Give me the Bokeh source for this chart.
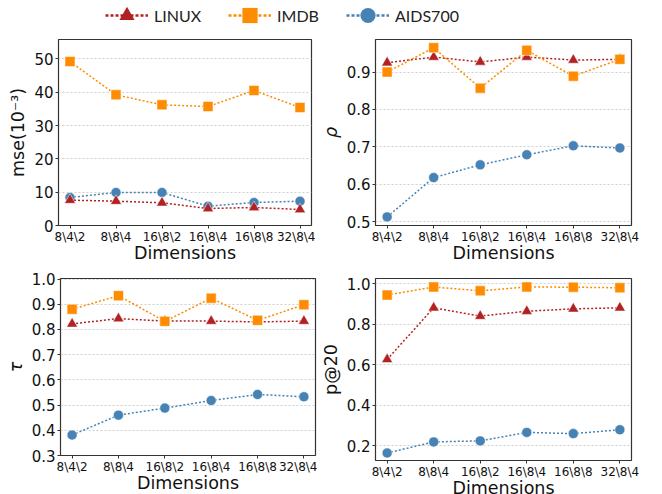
from bokeh.plotting import figure
from bokeh.layouts import column, row
from bokeh.models import (Range1d, FixedTicker, Legend, LegendItem)
from bokeh.embed import file_html
from bokeh.resources import INLINE

# ---------------- data ----------------
dims = ["8\\4\\2", "8\\8\\4", "16\\8\\2", "16\\8\\4", "16\\8\\8", "32\\8\\4"]
series = ["LINUX", "IMDB", "AIDS700"]

mse_linux = [7.6, 7.3, 6.8, 5.1, 5.4, 4.8]
mse_imdb = [49.2, 39.2, 36.2, 35.7, 40.5, 35.4]
mse_aids = [8.4, 9.9, 9.9, 5.8, 6.9, 7.3]

rho_linux = [0.925, 0.940, 0.927, 0.940, 0.932, 0.934]
rho_imdb = [0.900, 0.965, 0.857, 0.958, 0.889, 0.934]
rho_aids = [0.513, 0.618, 0.652, 0.679, 0.703, 0.697]

tau_linux = [0.822, 0.843, 0.833, 0.833, 0.830, 0.833]
tau_imdb = [0.880, 0.934, 0.832, 0.924, 0.836, 0.898]
tau_aids = [0.381, 0.460, 0.488, 0.518, 0.542, 0.533]

p20_linux = [0.627, 0.882, 0.841, 0.865, 0.877, 0.882]
p20_imdb = [0.945, 0.985, 0.966, 0.985, 0.984, 0.981]
p20_aids = [0.164, 0.219, 0.224, 0.266, 0.260, 0.279]

mse_ticks = [0, 10, 20, 30, 40, 50]
mse_tick_labels = ["0", "10", "20", "30", "40", "50"]
rho_ticks = [0.5, 0.6, 0.7, 0.8, 0.9]
rho_tick_labels = ["0.5", "0.6", "0.7", "0.8", "0.9"]
tau_ticks = [0.3, 0.4, 0.5, 0.6, 0.7, 0.8, 0.9, 1.0]
tau_tick_labels = ["0.3", "0.4", "0.5", "0.6", "0.7", "0.8", "0.9", "1.0"]
p20_ticks = [0.2, 0.4, 0.6, 0.8, 1.0]
p20_tick_labels = ["0.2", "0.4", "0.6", "0.8", "1.0"]

colors = {"LINUX": "#b22222", "IMDB": "#ff8c00", "AIDS700": "#4682b4"}
markers = {"LINUX": "triangle", "IMDB": "square", "AIDS700": "circle"}
msize = {"LINUX": 11, "IMDB": 10, "AIDS700": 10}

FONT = "DejaVu Sans"
xs = list(range(len(dims)))


def panel(data, ylabel, yr, yticks, ylabels, fw, fh, bl, br, bt, bb, italic=False):
    p = figure(width=bl + fw + br, height=bt + fh + bb,
               frame_width=fw, frame_height=fh,
               min_border_left=bl, min_border_right=br,
               min_border_top=bt, min_border_bottom=bb,
               x_range=Range1d(-0.25, len(dims) - 0.75),
               y_range=Range1d(*yr),
               toolbar_location=None, output_backend="svg")
    p.outline_line_color = "#333333"
    p.outline_line_width = 1.2
    p.xgrid.visible = False
    p.ygrid.grid_line_color = "#cfcfcf"
    p.ygrid.grid_line_dash = "2 2"
    p.ygrid.grid_line_width = 1
    p.ygrid.ticker = FixedTicker(ticks=yticks)

    p.xaxis.ticker = FixedTicker(ticks=xs)
    p.xaxis.major_label_overrides = {i: d for i, d in enumerate(dims)}
    p.yaxis.ticker = FixedTicker(ticks=yticks)
    p.yaxis.major_label_overrides = {t: s for t, s in zip(yticks, ylabels)}
    for ax in (p.xaxis[0], p.yaxis[0]):
        ax.axis_line_color = None
        ax.major_tick_out = 3
        ax.major_tick_in = 0
        ax.minor_tick_line_color = None
        ax.major_tick_line_color = "#333333"
        ax.major_label_standoff = 2
        ax.major_label_text_font = FONT
        ax.major_label_text_color = "#111111"
        ax.axis_label_text_font = FONT
        ax.axis_label_text_color = "#111111"
        ax.axis_label_text_font_size = "17.5px"
    p.xaxis.major_label_text_font_size = "12px"
    p.xaxis.major_label_standoff = 1
    p.xaxis.axis_label_standoff = -4
    p.yaxis.major_label_text_font_size = "15px"
    p.xaxis.axis_label = "Dimensions"
    p.xaxis.axis_label_text_font_style = "normal"
    p.yaxis.axis_label = ylabel
    p.yaxis.axis_label_standoff = 3
    p.yaxis.axis_label_text_font_style = "italic" if italic else "normal"

    for name in ["AIDS700", "LINUX", "IMDB"]:
        ys = data[name]
        p.line(xs, ys, line_color=colors[name], line_width=1.5, line_dash="2 2")
        p.scatter(xs, ys, marker=markers[name], size=msize[name],
                  fill_color=colors[name], line_color="white",
                  line_alpha=0.5, line_width=1)
    return p


p1 = panel({"LINUX": mse_linux, "IMDB": mse_imdb, "AIDS700": mse_aids},
           "mse(10\u207b\u00b3)", (0, 55.8), mse_ticks, mse_tick_labels,
           fw=253, fh=186, bl=58, br=4, bt=9, bb=41)
p2 = panel({"LINUX": rho_linux, "IMDB": rho_imdb, "AIDS700": rho_aids},
           "\u03c1", (0.490, 0.987), rho_ticks, rho_tick_labels,
           fw=256, fh=186, bl=60, br=31, bt=9, bb=41, italic=True)
p3 = panel({"LINUX": tau_linux, "IMDB": tau_imdb, "AIDS700": tau_aids},
           "\u03c4", (0.3, 1.002), tau_ticks, tau_tick_labels,
           fw=255, fh=177, bl=60, br=2, bt=12, bb=39, italic=True)
p4 = panel({"LINUX": p20_linux, "IMDB": p20_imdb, "AIDS700": p20_aids},
           "p@20", (0.127, 1.027), p20_ticks, p20_tick_labels,
           fw=256, fh=182, bl=55, br=34, bt=7, bb=39)

# ---------------- legend strip ----------------
# the data of the first panel is drawn outside the visible range of this strip;
# it only provides the legend glyphs
lg = figure(width=662, height=30, x_axis_type=None, y_axis_type=None,
            x_range=Range1d(100, 101), y_range=Range1d(100, 101),
            toolbar_location=None, output_backend="svg",
            min_border=0, outline_line_color=None)
lg.grid.visible = False
legend_data = {"LINUX": mse_linux, "IMDB": mse_imdb, "AIDS700": mse_aids}
items = []
for name in series:
    lr = lg.line(xs, legend_data[name], line_color=colors[name], line_width=2.5,
                 line_dash="3 2")
    sr = lg.scatter(xs, legend_data[name], marker=markers[name],
                    fill_color=colors[name], line_color=colors[name], line_width=0)
    items.append(LegendItem(label=name, renderers=[lr, sr]))
legend = Legend(items=items, orientation="horizontal", location=(105, -4),
                glyph_width=43, glyph_height=38, label_standoff=6, spacing=27,
                padding=0, margin=0, border_line_color=None,
                background_fill_alpha=0, label_text_font="Lato",
                label_text_font_size="16px", label_text_color="#222222")
lg.add_layout(legend, "center")

layout = column(lg, row(p1, p2), row(p3, p4), spacing=0)

with open("out.html", "w") as f:
    f.write(file_html(layout, INLINE))
